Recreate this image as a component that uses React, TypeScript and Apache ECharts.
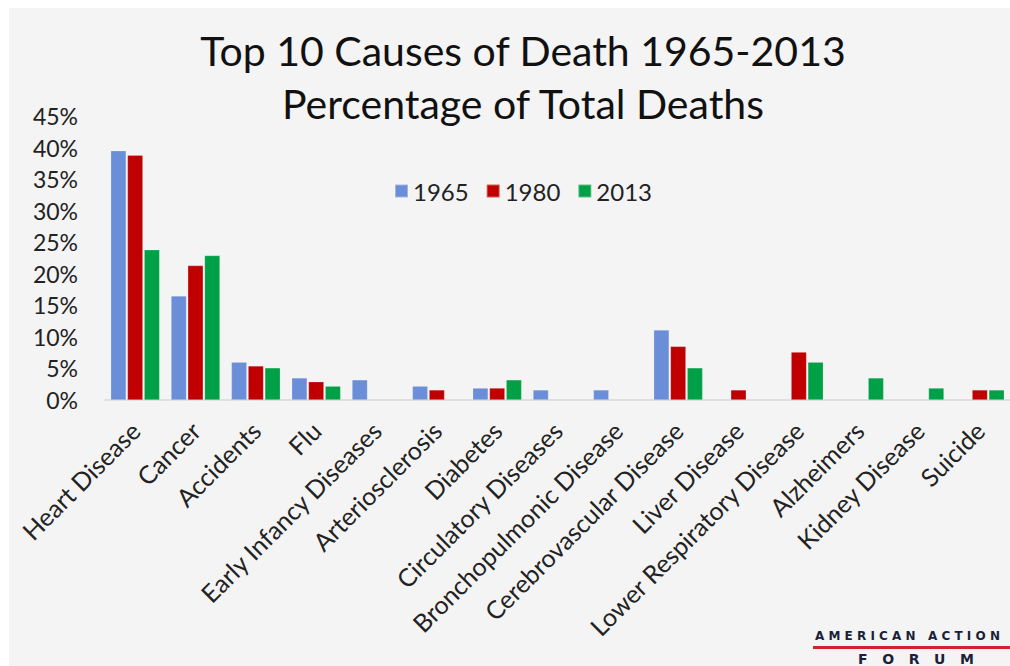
import React, { useEffect, useRef } from "react";
import * as echarts from "echarts";

const categories = [
  "Heart Disease",
  "Cancer",
  "Accidents",
  "Flu",
  "Early Infancy Diseases",
  "Arteriosclerosis",
  "Diabetes",
  "Circulatory Diseases",
  "Bronchopulmonic Disease",
  "Cerebrovascular Disease",
  "Liver Disease",
  "Lower Respiratory Disease",
  "Alzheimers",
  "Kidney Disease",
  "Suicide",
];

const v1965 = [39.5, 16.5, 6.0, 3.5, 3.2, 2.2, 1.9, 1.6, 1.6, 11.1, null, null, null, null, null];
const v1980 = [38.8, 21.3, 5.4, 2.9, null, 1.6, 1.9, null, null, 8.5, 1.6, 7.6, null, null, 1.6];
const v2013 = [23.8, 22.9, 5.1, 2.2, null, null, 3.2, null, null, 5.1, null, 6.0, 3.5, 1.9, 1.6];

const yTicks = [0, 5, 10, 15, 20, 25, 30, 35, 40, 45];

const FONT = "Lato, 'Open Sans', sans-serif";

export default function App() {
  const ref = useRef<HTMLDivElement>(null);
  useEffect(() => {
    if (!ref.current) return;
    const chart = echarts.init(ref.current, null, { renderer: "svg" });
    const mk = (name: string, data: (number | null)[], color: string) => ({
      name,
      type: "bar",
      data,
      barWidth: 15.5,
      barGap: "8%",
      itemStyle: { color, borderColor: "rgba(255,255,255,0.35)", borderWidth: 0.6 },
    });
    chart.setOption({
      animation: false,
      backgroundColor: "#ffffff",
      textStyle: { fontFamily: FONT },
      title: {
        text: "Top 10 Causes of Death 1965-2013\nPercentage of Total Deaths",
        left: 518,
        textAlign: "center",
        top: 19,
        textStyle: { fontFamily: FONT, fontSize: 41, fontWeight: "normal", color: "#111", lineHeight: 53 },
      },
      legend: {
        top: 174,
        left: 389,
        itemWidth: 13,
        itemHeight: 13,
        itemGap: 17,
        icon: "rect",
        textStyle: { fontFamily: FONT, fontSize: 24, color: "#222", padding: [0, 0, 0, 0] },
        data: ["1965", "1980", "2013"],
      },
      grid: { left: 105, right: -5, top: 116, bottom: 266, containLabel: false },
      xAxis: {
        type: "category",
        data: categories,
        axisLine: { lineStyle: { color: "#d9d9d9", width: 1.5 } },
        axisTick: { show: false },
        axisLabel: {
          rotate: 45,
          interval: 0,
          margin: 26,
          fontFamily: FONT,
          fontSize: 25,
          color: "#222",
        },
      },
      yAxis: {
        type: "value",
        min: yTicks[0],
        max: yTicks[yTicks.length - 1],
        interval: 5,
        splitLine: { show: false },
        axisLine: { show: false },
        axisTick: { show: false },
        axisLabel: {
          margin: 27,
          fontFamily: FONT,
          fontSize: 23,
          color: "#222",
          formatter: (v: number) => v + "%",
        },
      },
      graphic: [
        { type: "rect", z: -100, shape: { x: 9, y: 8, width: 1010, height: 666 }, style: { fill: "#f4f4f4" } },
        {
          type: "text",
          x: 815,
          y: 630,
          style: { text: "A M E R I C A N   A C T I O N", fill: "#1c1f3a", font: "bold 12px 'DejaVu Sans', sans-serif" },
        },
        { type: "rect", shape: { x: 813, y: 646, width: 200, height: 3 }, style: { fill: "#d2232a" } },
        {
          type: "text",
          x: 858,
          y: 652,
          style: { text: "F   O   R   U   M", fill: "#1c1f3a", font: "bold 14px 'DejaVu Sans', sans-serif" },
        },
      ],
      series: [mk("1965", v1965, "#6a8ed8"), mk("1980", v1980, "#c00000"), mk("2013", v2013, "#00a046")],
    });
    return () => chart.dispose();
  }, []);
  return <div ref={ref} style={{ position: "fixed", left: 0, top: 0, width: 1010, height: 666 }} />;
}
